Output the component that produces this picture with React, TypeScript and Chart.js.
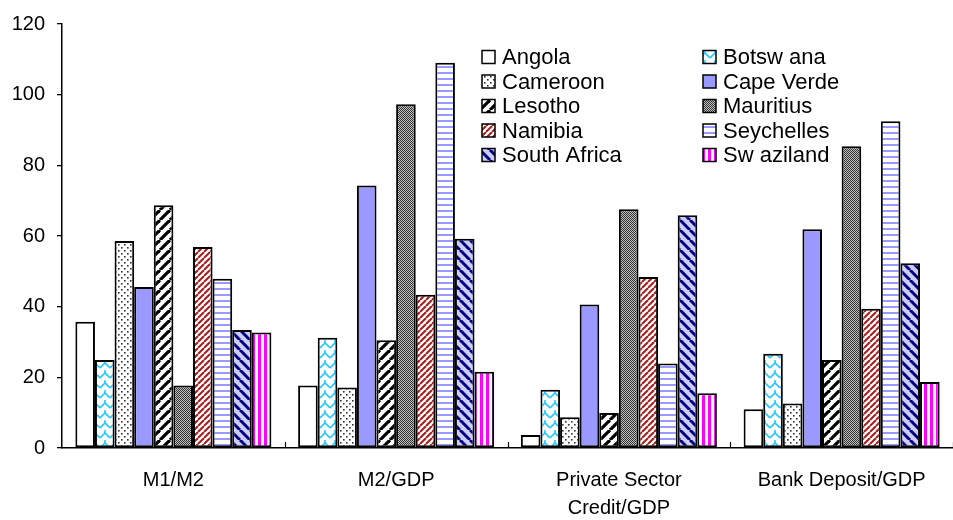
import React, { useEffect, useRef } from "react";
import { Chart, registerables } from "chart.js";

Chart.register(...registerables);

const categories: (string | string[])[] = ["M1/M2", "M2/GDP", ["Private Sector", "Credit/GDP"], "Bank Deposit/GDP"];

const seriesNames = [
  "Angola",
  "Botswana",
  "Cameroon",
  "Cape Verde",
  "Lesotho",
  "Mauritius",
  "Namibia",
  "Seychelles",
  "South Africa",
  "Swaziland",
];
const legendLabels = [
  "Angola",
  "Botsw ana",
  "Cameroon",
  "Cape Verde",
  "Lesotho",
  "Mauritius",
  "Namibia",
  "Seychelles",
  "South Africa",
  "Sw aziland",
];

const angola = [35.7, 17.7, 3.7, 11.0];
const botswana = [24.9, 31.2, 16.5, 26.7];
const cameroon = [58.6, 17.1, 8.7, 12.6];
const capeVerde = [45.6, 74.3, 40.6, 61.9];
const lesotho = [68.7, 30.5, 9.9, 24.9];
const mauritius = [17.7, 97.3, 67.6, 85.4];
const namibia = [56.9, 43.4, 48.4, 39.4];
const seychelles = [47.9, 109.0, 23.9, 92.5];
const southAfrica = [33.4, 59.2, 65.9, 52.3];
const swaziland = [32.7, 21.6, 15.5, 18.7];

const seriesValues = [angola, botswana, cameroon, capeVerde, lesotho, mauritius, namibia, seychelles, southAfrica, swaziland];

const yMin = 0;
const yMax = 120;
const yStep = 20;

const FONT = '"Liberation Sans", Arial, Helvetica, sans-serif';

function makePattern(
  ctx: CanvasRenderingContext2D,
  w: number,
  h: number,
  draw: (g: CanvasRenderingContext2D, w: number, h: number) => void
): CanvasPattern | string {
  const c = document.createElement("canvas");
  c.width = w;
  c.height = h;
  const g = c.getContext("2d")!;
  draw(g, w, h);
  return ctx.createPattern(c, "repeat") || "#fff";
}

function diag(g: CanvasRenderingContext2D, w: number, h: number, up: boolean) {
  for (let k = -1; k <= 1; k++) {
    g.beginPath();
    if (up) {
      g.moveTo(k * w, h);
      g.lineTo(k * w + w, 0);
    } else {
      g.moveTo(k * w, 0);
      g.lineTo(k * w + w, h);
    }
    g.stroke();
  }
}

function buildFills(ctx: CanvasRenderingContext2D): (CanvasPattern | string)[] {
  const angolaFill = "#ffffff";
  const botswanaFill = makePattern(ctx, 10, 10, (g, w, h) => {
    g.fillStyle = "#fff";
    g.fillRect(0, 0, w, h);
    g.strokeStyle = "#22c8ff";
    g.lineWidth = 1.6;
    g.beginPath();
    g.moveTo(0, 8);
    g.lineTo(5, 3);
    g.lineTo(10, 8);
    g.stroke();
    g.beginPath();
    g.moveTo(5, 3);
    g.lineTo(5, 0);
    g.stroke();
  });
  const cameroonFill = makePattern(ctx, 6, 6, (g, w, h) => {
    g.fillStyle = "#fff";
    g.fillRect(0, 0, w, h);
    g.fillStyle = "#333";
    g.fillRect(1, 1, 1.6, 1.6);
    g.fillRect(4, 4, 1.6, 1.6);
  });
  const capeVerdeFill = "#9999ff";
  const lesothoFill = makePattern(ctx, 10, 10, (g, w, h) => {
    g.fillStyle = "#fff";
    g.fillRect(0, 0, w, h);
    g.strokeStyle = "#000";
    g.lineWidth = 3.2;
    diag(g, w, h, true);
  });
  const mauritiusFill = makePattern(ctx, 2, 2, (g) => {
    g.fillStyle = "#c0c0c0";
    g.fillRect(0, 0, 2, 2);
    g.fillStyle = "#333";
    g.fillRect(0, 0, 1, 1);
    g.fillRect(1, 1, 1, 1);
  });
  const namibiaFill = makePattern(ctx, 6, 6, (g, w, h) => {
    g.fillStyle = "#fff";
    g.fillRect(0, 0, w, h);
    g.strokeStyle = "#a81c1c";
    g.lineWidth = 2;
    diag(g, w, h, true);
  });
  const seychellesFill = makePattern(ctx, 4, 6, (g, w, h) => {
    g.fillStyle = "#fff";
    g.fillRect(0, 0, w, h);
    g.fillStyle = "#9999ff";
    g.fillRect(0, 0, w, 2);
  });
  const southAfricaFill = makePattern(ctx, 10, 10, (g, w, h) => {
    g.fillStyle = "#ccccff";
    g.fillRect(0, 0, w, h);
    g.strokeStyle = "#000080";
    g.lineWidth = 3;
    diag(g, w, h, false);
  });
  const swazilandFill = makePattern(ctx, 6, 4, (g, w, h) => {
    g.fillStyle = "#fff";
    g.fillRect(0, 0, w, h);
    g.fillStyle = "#ff00ff";
    g.fillRect(0, 0, 3, h);
  });
  return [
    angolaFill,
    botswanaFill,
    cameroonFill,
    capeVerdeFill,
    lesothoFill,
    mauritiusFill,
    namibiaFill,
    seychellesFill,
    southAfricaFill,
    swazilandFill,
  ];
}

const legendPlugin = {
  id: "customLegend",
  afterDraw(chart: any) {
    const ctx: CanvasRenderingContext2D = chart.ctx;
    ctx.save();
    ctx.font = `22px ${FONT}`;
    ctx.textBaseline = "middle";
    ctx.textAlign = "left";
    chart.data.datasets.forEach((ds: any, i: number) => {
      const col = i % 2;
      const row = Math.floor(i / 2);
      const x = col === 0 ? 482 : 703;
      const y = 57 + row * 24.5;
      ctx.fillStyle = ds.backgroundColor;
      ctx.fillRect(x, y - 6.5, 13, 13);
      ctx.lineWidth = 1.5;
      ctx.strokeStyle = "#000";
      ctx.strokeRect(x, y - 6.5, 13, 13);
      ctx.fillStyle = "#000";
      ctx.fillText(legendLabels[i], x + 20, y + 1);
    });
    ctx.restore();
  },
};

const xTickPlugin = {
  id: "xCategoryTicks",
  afterDraw(chart: any) {
    const xs = chart.scales.x;
    const ctx: CanvasRenderingContext2D = chart.ctx;
    const n = categories.length;
    const half = n > 1 ? (xs.getPixelForValue(1) - xs.getPixelForValue(0)) / 2 : 0;
    const bottom = chart.chartArea.bottom;
    ctx.save();
    ctx.strokeStyle = "#000";
    ctx.lineWidth = 1.2;
    for (let i = 0; i < n; i++) {
      const x = Math.round(xs.getPixelForValue(i) + half) + 0.5;
      ctx.beginPath();
      ctx.moveTo(x, bottom);
      ctx.lineTo(x, bottom - 6);
      ctx.stroke();
    }
    ctx.restore();
  },
};

export default function App() {
  const ref = useRef<HTMLCanvasElement | null>(null);

  useEffect(() => {
    const canvas = ref.current;
    if (!canvas) return;
    const ctx = canvas.getContext("2d")!;
    const fills = buildFills(ctx);
    const chart = new Chart(ctx, {
      type: "bar",
      data: {
        labels: categories as any,
        datasets: seriesNames.map((name, i) => ({
          label: name,
          data: seriesValues[i],
          backgroundColor: fills[i] as any,
          borderColor: "#000",
          borderWidth: 2,
          borderSkipped: false,
          categoryPercentage: 0.88,
          barPercentage: 1.0,
        })),
      },
      options: {
        animation: false,
        responsive: false,
        maintainAspectRatio: false,
        layout: { padding: { top: 20, right: 0, left: 0, bottom: 0 } },
        plugins: {
          legend: { display: false },
          tooltip: { enabled: false },
        },
        scales: {
          x: {
            grid: { display: true, drawOnChartArea: false, drawTicks: false },
            border: { display: true, color: "#000", width: 1.5 },
            ticks: {
              color: "#000",
              font: { size: 20, family: FONT, lineHeight: 1.4 },
              padding: 18,
              maxRotation: 0,
              autoSkip: false,
            },
            afterFit: (s: any) => {
              s.height = 72;
            },
          },
          y: {
            min: yMin,
            max: yMax,
            ticks: {
              stepSize: yStep,
              color: "#000",
              font: { size: 20, family: FONT },
              padding: 12,
            },
            grid: {
              drawOnChartArea: false,
              drawTicks: true,
              tickLength: 5,
              color: "#000",
              lineWidth: 1.3,
            },
            border: { display: true, color: "#000", width: 1.5 },
            afterFit: (s: any) => {
              s.width = 62;
            },
          },
        },
      },
      plugins: [legendPlugin, xTickPlugin],
    });
    return () => chart.destroy();
  }, []);

  return (
    <div style={{ position: "absolute", left: 0, top: 0, width: 953, height: 520, background: "#fff" }}>
      <canvas ref={ref} width={953} height={520} style={{ width: 953, height: 520, display: "block" }} />
    </div>
  );
}
